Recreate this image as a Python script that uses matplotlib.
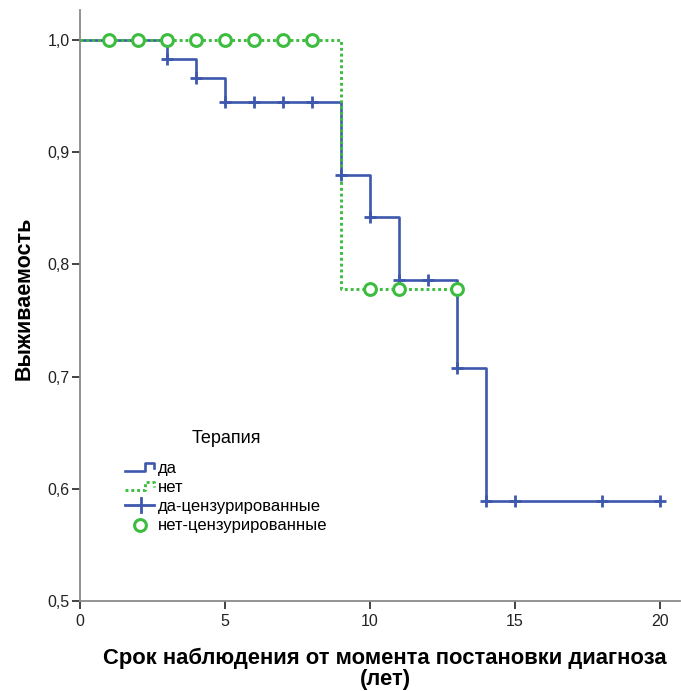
import numpy as np
import matplotlib.pyplot as plt
from matplotlib.lines import Line2D
from matplotlib.legend_handler import HandlerBase
from matplotlib.ticker import FixedLocator

plt.rcParams['font.family'] = ['Liberation Sans', 'DejaVu Sans']

BLUE = '#3d58ad'
GREEN = '#3dbd40'
DOTS = (0, (1.0, 1.0))

# Kaplan-Meier steps, group "да"
yes_times = [0, 3, 4, 5, 9, 10, 11, 13, 14, 20]
yes_surv = [1.0, 0.983, 0.966, 0.945, 0.880, 0.842, 0.786, 0.708, 0.589, 0.589]
yes_censored = [3, 4, 5, 6, 7, 8, 9, 10, 11, 12, 13, 14, 15, 18, 20]

# group "нет"
no_times = [0, 9, 13]
no_surv = [1.0, 0.778, 0.778]
no_censored = [1, 2, 3, 4, 5, 6, 7, 8, 10, 11, 13]

y_ticks = [0.5, 0.6, 0.7, 0.8, 0.9, 1.0]
y_ticklabels = ['0,5', '0,6', '0,7', '0,8', '0,9', '1,0']
x_ticks = [0, 5, 10, 15, 20]


def surv_at(times, surv, t):
    # value of the step function right after t
    idx = np.searchsorted(times, t, side='right') - 1
    return np.asarray(surv)[idx]


W, H = 681, 691
fig = plt.figure(figsize=(W / 100, H / 100), dpi=100)
ax = fig.add_axes([80 / W, 1 - 601 / H, 600 / W, 591 / H])

ax.step(yes_times, yes_surv, where='post', color=BLUE, lw=1.9, zorder=2)
ax.step(no_times, no_surv, where='post', color=GREEN, lw=2.1,
        linestyle=DOTS, zorder=3)

ax.plot(yes_censored, surv_at(yes_times, yes_surv, yes_censored), ls='none',
        marker='+', ms=9, mew=2.0, color=BLUE, zorder=4)
ax.plot(no_censored, surv_at(no_times, no_surv, no_censored), ls='none',
        marker='o', ms=8.5, mew=2.2, mfc='white', mec=GREEN, zorder=5)

ax.set_xlim(0, 600 / 29)
ax.set_ylim(0.5, 0.5 + 591 / 1122)
ax.xaxis.set_major_locator(FixedLocator(x_ticks))
ax.set_yticks(y_ticks)
ax.set_yticklabels(y_ticklabels)
ax.tick_params(axis='both', direction='out', length=6, width=1.2,
               labelsize=11.5, colors='#222222', pad=1.5)
ax.tick_params(axis='x', pad=3)

for side in ['top', 'right']:
    ax.spines[side].set_visible(False)
for side in ['left', 'bottom']:
    ax.spines[side].set_color('#8a8a8a')
    ax.spines[side].set_linewidth(1.3)

ax.set_ylabel('Выживаемость', fontsize=15.5, fontweight='bold')
ax.yaxis.set_label_coords(-45 / 600, (601 - 298) / 591)
fig.text(385 / W, 1 - 669 / H,
         'Срок наблюдения от момента постановки диагноза\n(лет)',
         ha='center', va='center', fontsize=15.8, fontweight='bold',
         linespacing=0.98)


class StepHandler(HandlerBase):
    def __init__(self, **line_kw):
        super().__init__()
        self.line_kw = line_kw

    def create_artists(self, legend, orig_handle, xdescent, ydescent,
                       width, height, fontsize, trans):
        x0, x1 = -xdescent, -xdescent + width
        xm = x0 + 0.68 * width
        y_lo = -ydescent + 0.15 * height
        y_hi = -ydescent + 0.85 * height
        xs = [x0, xm, xm, x1, x1]
        ys = [y_lo, y_lo, y_hi, y_hi, -ydescent + 0.45 * height]
        return [Line2D(xs, ys, transform=trans, **self.line_kw)]


class CrossHandler(HandlerBase):
    def create_artists(self, legend, orig_handle, xdescent, ydescent,
                       width, height, fontsize, trans):
        x0, x1 = -xdescent, -xdescent + width
        xm = x0 + 0.55 * width
        ym = -ydescent + 0.5 * height
        arm = 0.6 * height
        h = Line2D([x0, x1], [ym, ym], color=BLUE, lw=2.0, transform=trans)
        v = Line2D([xm, xm], [ym - arm, ym + arm], color=BLUE, lw=2.0,
                   transform=trans)
        return [h, v]


class CircleHandler(HandlerBase):
    def create_artists(self, legend, orig_handle, xdescent, ydescent,
                       width, height, fontsize, trans):
        xm = -xdescent + 0.5 * width
        ym = -ydescent + 0.5 * height
        c = Line2D([xm], [ym], ls='none', marker='o', ms=8.5, mew=2.2,
                   mfc='white', mec=GREEN, transform=trans)
        return [c]


h_yes = Line2D([], [], color=BLUE)
h_no = Line2D([], [], color=GREEN)
h_yes_c = Line2D([], [], color=BLUE, marker='+')
h_no_c = Line2D([], [], color=GREEN, marker='o')

leg = fig.legend([h_yes, h_no, h_yes_c, h_no_c],
                 ['да', 'нет', 'да-цензурированные', 'нет-цензурированные'],
                 handler_map={
                     h_yes: StepHandler(color=BLUE, lw=1.9),
                     h_no: StepHandler(color=GREEN, lw=2.1, linestyle=DOTS),
                     h_yes_c: CrossHandler(),
                     h_no_c: CircleHandler(),
                 },
                 title='Терапия', loc='upper left',
                 bbox_to_anchor=(125 / W, 1 - 430 / H),
                 frameon=False, fontsize=12, title_fontsize=13,
                 handlelength=1.75, handleheight=0.7, handletextpad=0.2,
                 labelspacing=0.25, borderpad=0, borderaxespad=0)
leg._legend_box.sep = 10

fig.savefig('out.png', dpi=100)
